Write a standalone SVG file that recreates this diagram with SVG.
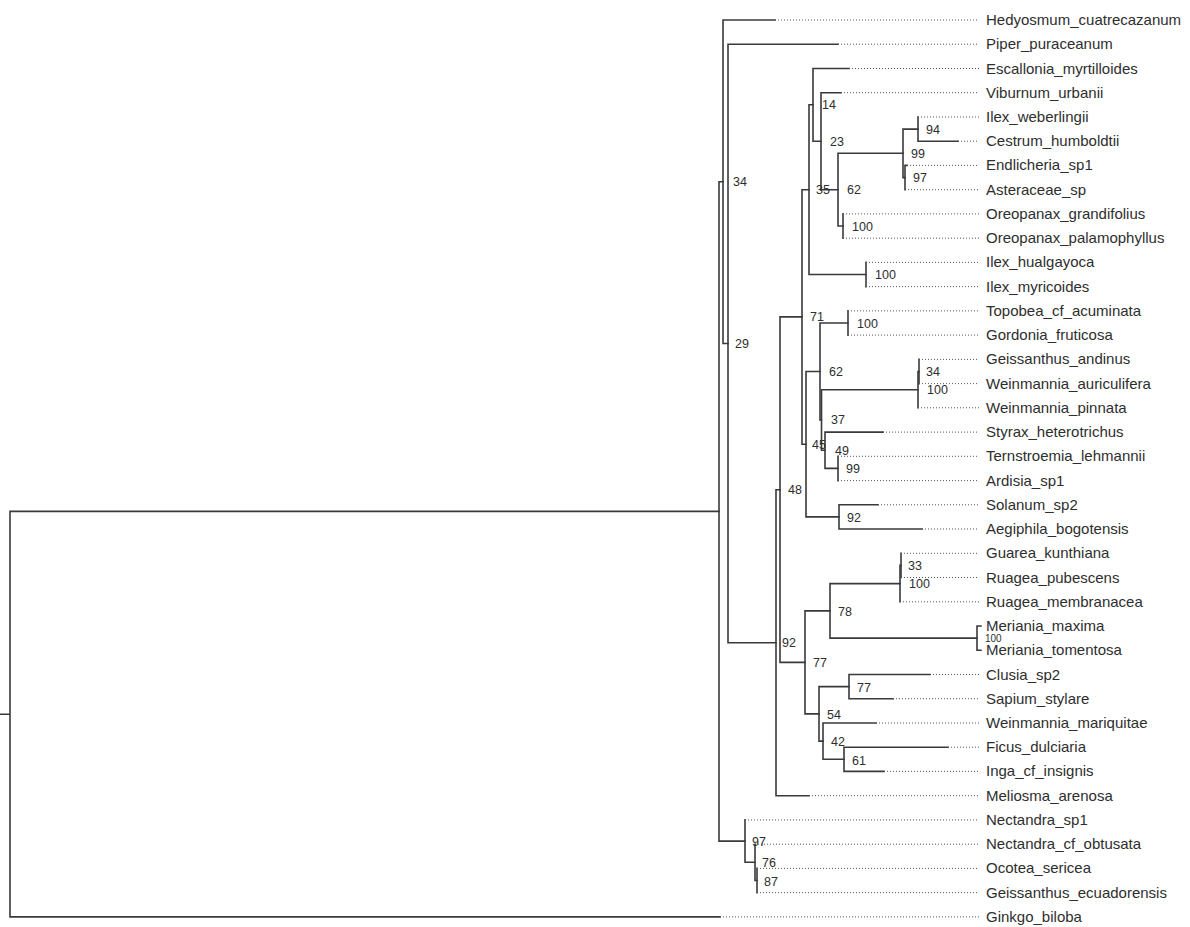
<svg xmlns="http://www.w3.org/2000/svg" width="1190" height="927" viewBox="0 0 1190 927">
<style>
.br{fill:none;stroke:#3a3a3a;stroke-width:1.6;stroke-linecap:square}
.dt{fill:none;stroke:#555;stroke-width:1;stroke-dasharray:1 2}
.tx{font-family:"Liberation Sans",Arial,sans-serif;font-size:15px;fill:#2e2e2e}
.sp{font-family:"Liberation Sans",Arial,sans-serif;font-size:12.5px;fill:#2e2e2e}
</style>
<rect width="1190" height="927" fill="#fff"/>
<g id="connectors">
<path class="br" d="M0,714.2H10 M10,511.4V916.9 M10,511.4H719 M10,916.9H720"/>
<path class="br" d="M719,181.7V841.1 M719,181.7H723 M719,841.1H745"/>
<path class="br" d="M723,20V343.5 M723,20H775 M723,343.5H728"/>
<path class="br" d="M728,44.2V642.7 M728,44.2H838 M728,642.7H776"/>
<path class="br" d="M776,489.7V795.7 M776,489.7H780 M776,795.7H809"/>
<path class="br" d="M780,316.9V662.4 M780,316.9H802 M780,662.4H805"/>
<path class="br" d="M802,189.7V444.2 M802,189.7H809 M802,444.2H806"/>
<path class="br" d="M809,104.8V274.5 M809,104.8H813 M809,274.5H866"/>
<path class="br" d="M813,68.5V141.2 M813,68.5H849 M813,141.2H821"/>
<path class="br" d="M821,92.7V189.7 M821,92.7H841 M821,189.7H838"/>
<path class="br" d="M838,153.3V226 M838,153.3H903 M838,226H843"/>
<path class="br" d="M903,129.1V177.6 M903,129.1H918 M903,177.6H905"/>
<path class="br" d="M918,117V141.2 M918,141.2H958"/>
<path class="br" d="M905,165.4V189.7 M905,165.4H907"/>
<path class="br" d="M843,213.9V238.2"/>
<path class="br" d="M866,262.4V286.6"/>
<path class="br" d="M806,371.5V516.9 M806,371.5H820 M806,516.9H839"/>
<path class="br" d="M820,323V420 M820,323H848 M820,420H821.5"/>
<path class="br" d="M848,310.9V335.1"/>
<path class="br" d="M821.5,389.7V450.3 M821.5,389.7H918 M821.5,450.3H825"/>
<path class="br" d="M918,371.5V407.8 M918,371.5H919"/>
<path class="br" d="M919,359.4V383.6"/>
<path class="br" d="M825,432.1V468.4 M825,432.1H883 M825,468.4H838"/>
<path class="br" d="M838,456.3V480.6"/>
<path class="br" d="M839,504.8V529 M839,504.8H878 M839,529H922"/>
<path class="br" d="M805,610.9V713.9 M805,610.9H830 M805,713.9H819"/>
<path class="br" d="M830,583.6V638.1 M830,583.6H900 M830,638.1H977"/>
<path class="br" d="M900,565.4V601.8 M900,565.4H901"/>
<path class="br" d="M901,553.3V577.5"/>
<path class="br" d="M977,626V650.2 M977,626H981 M977,650.2H981"/>
<path class="br" d="M819,686.6V741.1 M819,686.6H849 M819,741.1H823"/>
<path class="br" d="M849,674.5V698.7 M849,674.5H930 M849,698.7H893"/>
<path class="br" d="M823,723V759.3 M823,723H876 M823,759.3H844"/>
<path class="br" d="M844,747.2V771.4 M844,747.2H948 M844,771.4H884"/>
<path class="br" d="M745,819.9V862.3 M745,862.3H755"/>
<path class="br" d="M755,844.2V880.5 M755,880.5H757"/>
<path class="br" d="M757,868.4V892.6"/>
<path class="dt" d="M775,20H979 M838,44.2H979 M849,68.5H979 M841,92.7H979 M918,117H979 M958,141.2H979 M907,165.4H979 M905,189.7H979 M843,213.9H979 M843,238.2H979 M866,262.4H979 M866,286.6H979 M848,310.9H979 M848,335.1H979 M919,359.4H979 M919,383.6H979 M918,407.8H979 M883,432.1H979 M838,456.3H979 M838,480.6H979 M878,504.8H979 M922,529H979 M901,553.3H979 M901,577.5H979 M900,601.8H979 M930,674.5H979 M893,698.7H979 M876,723H979 M948,747.2H979 M884,771.4H979 M809,795.7H979 M745,819.9H979 M755,844.2H979 M757,868.4H979 M757,892.6H979 M720,916.9H979"/>
</g>
<g id="taxa" class="tx">
<g id="t-hedyosmum"><text x="986" y="25">Hedyosmum_cuatrecazanum</text></g>
<g id="t-piper"><text x="986" y="49.2">Piper_puraceanum</text></g>
<g id="t-escallonia"><text x="986" y="73.5">Escallonia_myrtilloides</text></g>
<g id="t-viburnum"><text x="986" y="97.7">Viburnum_urbanii</text></g>
<g id="t-ilex-weberlingii"><text x="986" y="122">Ilex_weberlingii</text></g>
<g id="t-cestrum"><text x="986" y="146.2">Cestrum_humboldtii</text></g>
<g id="t-endlicheria"><text x="986" y="170.4">Endlicheria_sp1</text></g>
<g id="t-asteraceae"><text x="986" y="194.7">Asteraceae_sp</text></g>
<g id="t-oreopanax-g"><text x="986" y="218.9">Oreopanax_grandifolius</text></g>
<g id="t-oreopanax-p"><text x="986" y="243.2">Oreopanax_palamophyllus</text></g>
<g id="t-ilex-hualgayoca"><text x="986" y="267.4">Ilex_hualgayoca</text></g>
<g id="t-ilex-myricoides"><text x="986" y="291.6">Ilex_myricoides</text></g>
<g id="t-topobea"><text x="986" y="315.9">Topobea_cf_acuminata</text></g>
<g id="t-gordonia"><text x="986" y="340.1">Gordonia_fruticosa</text></g>
<g id="t-geissanthus-a"><text x="986" y="364.4">Geissanthus_andinus</text></g>
<g id="t-weinmannia-a"><text x="986" y="388.6">Weinmannia_auriculifera</text></g>
<g id="t-weinmannia-p"><text x="986" y="412.8">Weinmannia_pinnata</text></g>
<g id="t-styrax"><text x="986" y="437.1">Styrax_heterotrichus</text></g>
<g id="t-ternstroemia"><text x="986" y="461.3">Ternstroemia_lehmannii</text></g>
<g id="t-ardisia"><text x="986" y="485.6">Ardisia_sp1</text></g>
<g id="t-solanum"><text x="986" y="509.8">Solanum_sp2</text></g>
<g id="t-aegiphila"><text x="986" y="534">Aegiphila_bogotensis</text></g>
<g id="t-guarea"><text x="986" y="558.3">Guarea_kunthiana</text></g>
<g id="t-ruagea-p"><text x="986" y="582.5">Ruagea_pubescens</text></g>
<g id="t-ruagea-m"><text x="986" y="606.8">Ruagea_membranacea</text></g>
<g id="t-meriania-m"><text x="986" y="631">Meriania_maxima</text></g>
<g id="t-meriania-t"><text x="986" y="655.2">Meriania_tomentosa</text></g>
<g id="t-clusia"><text x="986" y="679.5">Clusia_sp2</text></g>
<g id="t-sapium"><text x="986" y="703.7">Sapium_stylare</text></g>
<g id="t-weinmannia-m"><text x="986" y="728">Weinmannia_mariquitae</text></g>
<g id="t-ficus"><text x="986" y="752.2">Ficus_dulciaria</text></g>
<g id="t-inga"><text x="986" y="776.4">Inga_cf_insignis</text></g>
<g id="t-meliosma"><text x="986" y="800.7">Meliosma_arenosa</text></g>
<g id="t-nectandra-sp1"><text x="986" y="824.9">Nectandra_sp1</text></g>
<g id="t-nectandra-cf"><text x="986" y="849.2">Nectandra_cf_obtusata</text></g>
<g id="t-ocotea"><text x="986" y="873.4">Ocotea_sericea</text></g>
<g id="t-geissanthus-e"><text x="986" y="897.6">Geissanthus_ecuadorensis</text></g>
<g id="t-ginkgo"><text x="986" y="921.9">Ginkgo_biloba</text></g>
</g>
<g id="supports" class="sp">
<g id="n34"><text x="733" y="186">34</text></g>
<g id="n29"><text x="735" y="348">29</text></g>
<g id="n14"><text x="822" y="109">14</text></g>
<g id="n23"><text x="830" y="146">23</text></g>
<g id="n94"><text x="926" y="134">94</text></g>
<g id="n99a"><text x="911" y="157.5">99</text></g>
<g id="n97a"><text x="913" y="182">97</text></g>
<g id="n35"><text x="816" y="194">35</text></g>
<g id="n62a"><text x="847" y="194">62</text></g>
<g id="n100oreo"><text x="852" y="230.5">100</text></g>
<g id="n100ilex"><text x="875" y="279">100</text></g>
<g id="n71"><text x="810" y="321">71</text></g>
<g id="n100topo"><text x="857" y="327.5">100</text></g>
<g id="n62b"><text x="829" y="375.5">62</text></g>
<g id="n34g"><text x="926" y="376">34</text></g>
<g id="n100w"><text x="927" y="394">100</text></g>
<g id="n37"><text x="831" y="424">37</text></g>
<g id="n45"><text x="812" y="449">45</text></g>
<g id="n49"><text x="835" y="455">49</text></g>
<g id="n99b"><text x="846" y="473">99</text></g>
<g id="n48"><text x="788" y="494">48</text></g>
<g id="n92a"><text x="847" y="521.5">92</text></g>
<g id="n33"><text x="908" y="570">33</text></g>
<g id="n100r"><text x="909" y="588">100</text></g>
<g id="n78"><text x="838" y="616">78</text></g>
<g id="n100m"><text x="985" y="641.5" style="font-size:10px">100</text></g>
<g id="n92"><text x="782" y="647">92</text></g>
<g id="n77"><text x="813" y="667">77</text></g>
<g id="n77c"><text x="857" y="692">77</text></g>
<g id="n54"><text x="827" y="719">54</text></g>
<g id="n42"><text x="831" y="746">42</text></g>
<g id="n61"><text x="852" y="765">61</text></g>
<g id="n97n"><text x="752" y="846">97</text></g>
<g id="n76"><text x="762" y="867">76</text></g>
<g id="n87"><text x="764" y="886">87</text></g>
</g>
</svg>
